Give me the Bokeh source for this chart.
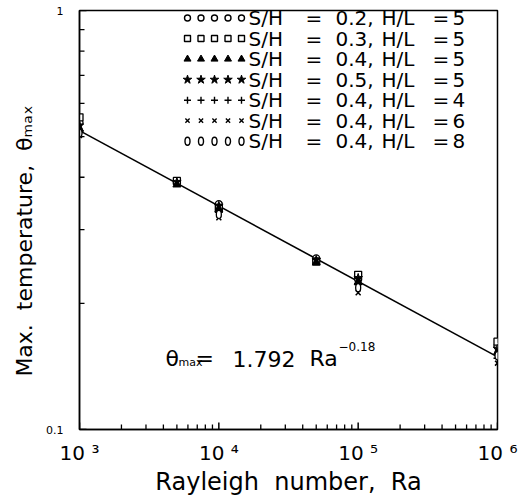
from bokeh.plotting import figure
from bokeh.models import FixedTicker, Range1d
from bokeh.core.properties import value
from bokeh.embed import file_html
from bokeh.resources import INLINE

# ---------------- data ----------------
ra_h5 = [1e3, 5e3, 1e4, 5e4, 1e5, 1e6]
theta_sh02 = [0.540, 0.388, 0.345, 0.256, 0.228, 0.158]
theta_sh03 = [0.556, 0.392, 0.338, 0.252, 0.234, 0.162]
theta_sh04 = [0.522, 0.384, 0.335, 0.250, 0.225, 0.153]
theta_sh05 = [0.532, 0.390, 0.342, 0.254, 0.230, 0.156]

ra_sh04 = [1e3, 1e4, 1e5, 1e6]
theta_hl4 = [0.515, 0.330, 0.222, 0.148]
theta_hl6 = [0.503, 0.320, 0.212, 0.144]
theta_hl8 = [0.510, 0.326, 0.218, 0.150]

fit_coef = 1.792
fit_exp = -0.18
fit_ra = [1e3, 1e6]
fit_theta = [fit_coef * r ** fit_exp for r in fit_ra]

legend_sh = ["0.2", "0.3", "0.4", "0.5", "0.4", "0.4", "0.4"]
legend_hl = ["5", "5", "5", "5", "4", "6", "8"]

x_ticks = [1e3, 1e4, 1e5, 1e6]
x_minor = [k * 10 ** e for e in (3, 4, 5) for k in range(2, 10)]
x_tick_labels = ["10\u00a0\u00b3", "10\u00a0\u2074", "10\u00a0\u2075", "10\u00a0\u2076"]
y_ticks = [0.1, 1]
y_minor = [k / 10 for k in range(2, 10)]
y_tick_labels = ["0.1", "1"]

FONT = "DejaVu Sans"
W, H = 519, 498
L, R, T, B = 79, 22, 10, 68
FW, FH = W - L - R, H - T - B


def xd(px):
    return 10 ** (3 + (px - L) / FW * 3)


def yd(py):
    return 10 ** (-(py - T) / FH)


p = figure(width=W, height=H, x_axis_type="log", y_axis_type="log",
           x_range=Range1d(1e3, 1e6), y_range=Range1d(0.1, 1),
           output_backend="svg", toolbar_location=None,
           min_border_left=L, min_border_right=R, min_border_top=T, min_border_bottom=B)
p.grid.visible = False
p.background_fill_color = "white"
p.border_fill_color = "white"
p.outline_line_color = "black"
p.outline_line_width = 1.5

p.xaxis.ticker = FixedTicker(ticks=x_ticks, minor_ticks=x_minor)
p.yaxis.ticker = FixedTicker(ticks=y_ticks, minor_ticks=y_minor)
p.xaxis.major_label_overrides = dict(zip(x_ticks, x_tick_labels))
p.yaxis.major_label_overrides = dict(zip(y_ticks, y_tick_labels))

p.axis.axis_line_width = 1.5
p.axis.axis_line_color = "black"
p.axis.major_tick_line_color = None
p.axis.minor_tick_line_color = None
p.axis.major_tick_in = 0
p.axis.major_tick_out = 6
p.axis.minor_tick_in = 0
p.axis.minor_tick_out = 0
p.axis.major_label_text_font = FONT
p.axis.axis_label_text_font = FONT
p.axis.axis_label_text_font_style = "normal"
p.axis.major_label_text_color = "black"
p.axis.axis_label_text_color = "black"

p.xaxis.major_label_text_font_size = "20px"
p.xaxis.major_label_standoff = 5
p.xaxis.axis_label = "Rayleigh\u00a0\u00a0number,\u00a0\u00a0Ra"
p.xaxis.axis_label_text_font_size = "24px"
p.xaxis.axis_label_standoff = 0

p.yaxis.major_label_text_font_size = "11px"
p.yaxis.major_label_standoff = 10
p.yaxis.axis_label = "Max.\u00a0\u00a0temperature,\u00a0\u00a0\u03b8\u2098\u2090\u2093" + "\u00a0" * 6
p.yaxis.axis_label_text_font_size = "22px"
p.yaxis.axis_label_standoff = 6

# tick marks drawn just inside the frame (axis ticks do not render here)
y_bottom = y_ticks[0]
x_left = x_ticks[0]
p.segment(x0=x_ticks, y0=[y_bottom] * len(x_ticks), x1=x_ticks, y1=[yd(T + FH - 7)] * len(x_ticks),
          line_color="black", line_width=1.5)
p.segment(x0=x_minor, y0=[y_bottom] * len(x_minor), x1=x_minor, y1=[yd(T + FH - 5)] * len(x_minor),
          line_color="black", line_width=1.3)
p.segment(x0=[x_left] * len(y_ticks), y0=y_ticks, x1=[xd(L + 7)] * len(y_ticks), y1=y_ticks,
          line_color="black", line_width=1.5)
p.segment(x0=[x_left] * len(y_minor), y0=y_minor, x1=[xd(L + 5)] * len(y_minor), y1=y_minor,
          line_color="black", line_width=1.3)

# fit line
p.line(fit_ra, fit_theta, line_color="black", line_width=1.6)

# data series
ms = 8
p.scatter(ra_h5, theta_sh02, marker="circle", size=ms - 1, fill_color="white", line_color="black", line_width=1.3)
p.scatter(ra_h5, theta_sh03, marker="square", size=ms - 1, fill_color="white", line_color="black", line_width=1.3)
p.scatter(ra_h5, theta_sh04, marker="triangle", size=ms, fill_color="black", line_color="black")
p.scatter(ra_h5, theta_sh05, marker="star", size=ms + 1, fill_color="black", line_color="black")
p.scatter(ra_sh04, theta_hl4, marker="cross", size=ms, line_color="black", line_width=1.5)
p.scatter(ra_sh04, theta_hl6, marker="x", size=ms - 1, line_color="black", line_width=1.5)
p.ellipse(ra_sh04, theta_hl8, width=5, height=8, width_units="screen", height_units="screen",
          fill_color="white", line_color="black", line_width=1.3)

# legend (custom, five markers per row)
row_y = [17.5 + 20.6 * i for i in range(7)]
mk_x = [187, 200.5, 214, 227.5, 241]
lsz = 6
for i, yy in enumerate(row_y):
    xs = [xd(v) for v in mk_x]
    ys = [yd(yy)] * 5
    if i == 0:
        p.scatter(xs, ys, marker="circle", size=lsz, fill_color="white", line_color="black", line_width=1.4)
    elif i == 1:
        p.scatter(xs, ys, marker="square", size=lsz, fill_color="white", line_color="black", line_width=1.4)
    elif i == 2:
        p.scatter(xs, ys, marker="triangle", size=lsz + 1, fill_color="black", line_color="black")
    elif i == 3:
        p.scatter(xs, ys, marker="star", size=lsz + 3, fill_color="black", line_color="black")
    elif i == 4:
        p.scatter(xs, ys, marker="cross", size=lsz + 1, line_color="black", line_width=1.4)
    elif i == 5:
        p.scatter(xs, ys, marker="x", size=lsz, line_color="black", line_width=1.4)
    else:
        p.ellipse(xs, ys, width=5, height=8, width_units="screen", height_units="screen",
                  fill_color="white", line_color="black", line_width=1.4)

part_x = [248, 305, 335, 381, 432, 452]
tx, ty, tt = [], [], []
for i, yy in enumerate(row_y):
    parts = ["S/H", "=", legend_sh[i] + ",", "H/L", "=", legend_hl[i]]
    for px, s in zip(part_x, parts):
        tx.append(xd(px))
        ty.append(yd(yy))
        tt.append(s)
p.text(x=tx, y=ty, text=tt, text_font=value(FONT), text_font_size="20px",
       text_baseline="middle", text_align="left", text_color="black")

# equation annotation
eq_base = 359
p.text(x=[xd(165)], y=[yd(eq_base)], text=["\u03b8"], text_font=value(FONT), text_font_size="22px",
       text_baseline="alphabetic", text_align="left", text_color="black")
p.text(x=[xd(178)], y=[yd(eq_base + 4)], text=["max"], text_font=value(FONT), text_font_size="11px",
       text_baseline="alphabetic", text_align="left", text_color="black")
p.text(x=[xd(195)], y=[yd(eq_base)], text=["="], text_font=value(FONT), text_font_size="22px",
       text_baseline="alphabetic", text_align="left", text_color="black")
p.text(x=[xd(232)], y=[yd(eq_base)], text=[f"{fit_coef:.3f}"], text_font=value(FONT), text_font_size="22px",
       text_baseline="alphabetic", text_align="left", text_color="black")
p.text(x=[xd(309)], y=[yd(eq_base)], text=["Ra"], text_font=value(FONT), text_font_size="22px",
       text_baseline="alphabetic", text_align="left", text_color="black")
p.text(x=[xd(338)], y=[yd(eq_base - 12)], text=[f"\u2212{abs(fit_exp):.2f}"], text_font=value(FONT),
       text_font_size="12px", text_baseline="alphabetic", text_align="left", text_color="black")

open("out.html", "w").write(file_html(p, INLINE))
